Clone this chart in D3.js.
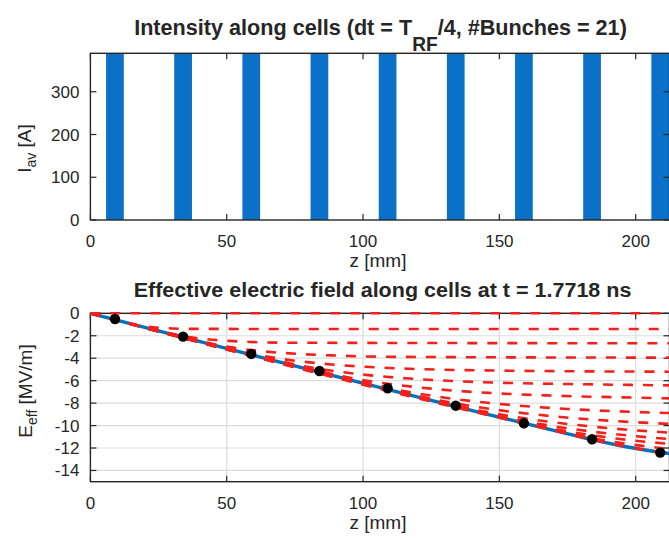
<!DOCTYPE html>
<html>
<head>
<meta charset="utf-8">
<script src="https://cdn.jsdelivr.net/npm/d3@7"></script>
<style>
  body { margin: 0; background: #fff; }
  svg { display: block; }
  text { font-family: "Liberation Sans", Arial, Helvetica, sans-serif; fill: #262626; }
</style>
</head>
<body>
<svg id="chart" width="669" height="540"></svg>
<script>
// ---- data ----------------------------------------------------------------
// bunch centres along the cells (mm) and their average current (A)
const bunchZ = [9, 34, 59, 84, 109, 134, 159, 184, 209];
const bunchCurrent = [390, 390, 390, 390, 390, 390, 390, 390, 390];
const bunchLength = 6.5; // mm

const zTicks = [0, 50, 100, 150, 200];
const currentTicks = [0, 100, 200, 300];
const fieldTicks = [0, -2, -4, -6, -8, -10, -12, -14];

// effective field seen at each bunch position (MV/m)
const bunchField = [-0.51, -2.08, -3.62, -5.14, -6.68, -8.23, -9.80, -11.22, -12.41];

// total effective field along the cells
const totalFieldZ = [0, 179, 184, 192.75, 206.5, 212.4];
const totalFieldE = [0, -10.97, -11.26, -11.71, -12.29, -12.50];

// partial field profiles, one per earlier step: [z (mm), E (MV/m)]
const partialFields = [
  [[0, 0], [212.4, 0]],
  [[0, 0], [16, -0.98], [17.75, -1.08], [19.5, -1.15], [23, -1.25], [26.5, -1.31], [30, -1.35], [37, -1.39], [212.4, -1.40]],
  [[0, 0], [28.6, -1.75], [32.35, -1.95], [36.1, -2.11], [43.6, -2.33], [51.1, -2.46], [58.6, -2.55], [73.6, -2.62], [212.4, -2.67]],
  [[0, 0], [40.4, -2.48], [46.4, -2.80], [52.4, -3.06], [64.4, -3.41], [76.4, -3.62], [88.4, -3.75], [112.4, -3.88], [212.4, -3.95]],
  [[0, 0], [52.8, -3.24], [60.8, -3.67], [68.8, -4.01], [84.8, -4.48], [100.8, -4.76], [116.8, -4.94], [148.8, -5.10], [212.4, -5.20]],
  [[0, 0], [67.1, -4.11], [76.6, -4.63], [86.1, -5.03], [105.1, -5.58], [124.1, -5.92], [143.1, -6.13], [181.1, -6.32], [212.4, -6.42]],
  [[0, 0], [83, -5.09], [93.5, -5.66], [104, -6.10], [125, -6.71], [146, -7.09], [167, -7.31], [209, -7.56], [212.4, -7.58]],
  [[0, 0], [100, -6.13], [112.5, -6.81], [125, -7.34], [150, -8.07], [175, -8.52], [200, -8.79], [212.4, -8.88]],
  [[0, 0], [115, -7.05], [128.75, -7.80], [142.5, -8.37], [170, -9.18], [197.5, -9.67], [212.4, -9.85]],
  [[0, 0], [129, -7.91], [143.5, -8.70], [158, -9.31], [187, -10.16], [212.4, -10.63]],
  [[0, 0], [142, -8.70], [156.5, -9.49], [171, -10.10], [200, -10.95], [212.4, -11.20]],
  [[0, 0], [155, -9.50], [168, -10.20], [181, -10.75], [207, -11.52], [212.4, -11.63]],
  [[0, 0], [167, -10.24], [180, -10.94], [193, -11.49], [212.4, -12.09]],
  [[0, 0], [179, -10.97], [184, -11.26], [192.75, -11.71], [206.5, -12.29], [212.4, -12.50]]
];

// ---- layout ----------------------------------------------------------------
const svg = d3.select("#chart");
const left = 90.4, right = 669.5;
const top1 = { y0: 53.3, y1: 220 };
const top2 = { y0: 313.3, y1: 481.7 };
const tickLen = 6;
const axisColor = "#262626";
const gridColor = "#dcdcdc";

const x = d3.scaleLinear().domain([0, 212.4]).range([left, right]);
const yI = d3.scaleLinear().domain([0, 390]).range([top1.y1, top1.y0]);
const yE = d3.scaleLinear().domain([-15, 0]).range([top2.y1, top2.y0]);

svg.append("defs").append("clipPath").attr("id", "clipTop")
  .append("rect").attr("x", left).attr("y", top1.y0)
  .attr("width", right - left).attr("height", top1.y1 - top1.y0);

// ---- upper panel: intensity along cells --------------------------------------
const g1 = svg.append("g");
g1.append("g").attr("clip-path", "url(#clipTop)")
  .selectAll("rect").data(bunchZ).join("rect")
  .attr("x", d => x(d - bunchLength / 2))
  .attr("width", d => x(d + bunchLength / 2) - x(d - bunchLength / 2))
  .attr("y", (d, i) => yI(bunchCurrent[i]))
  .attr("height", (d, i) => yI(0) - yI(bunchCurrent[i]))
  .attr("fill", "#0a70c8");

function drawBox(g, yScale, yTicks, y0, y1, fmt) {
  // outer box
  g.append("rect").attr("x", left).attr("y", y0)
    .attr("width", right - left).attr("height", y1 - y0)
    .attr("fill", "none").attr("stroke", axisColor).attr("stroke-width", 1.4);
  // inward ticks on all four sides
  zTicks.forEach(t => {
    g.append("line").attr("x1", x(t)).attr("x2", x(t)).attr("y1", y1).attr("y2", y1 - tickLen)
      .attr("stroke", axisColor).attr("stroke-width", 1.2);
    g.append("line").attr("x1", x(t)).attr("x2", x(t)).attr("y1", y0).attr("y2", y0 + tickLen)
      .attr("stroke", axisColor).attr("stroke-width", 1.2);
  });
  yTicks.forEach(t => {
    g.append("line").attr("x1", left).attr("x2", left + tickLen).attr("y1", yScale(t)).attr("y2", yScale(t))
      .attr("stroke", axisColor).attr("stroke-width", 1.2);
    g.append("line").attr("x1", right).attr("x2", right - tickLen).attr("y1", yScale(t)).attr("y2", yScale(t))
      .attr("stroke", axisColor).attr("stroke-width", 1.2);
  });
  // tick labels
  g.selectAll(".xt").data(zTicks).join("text")
    .attr("x", d => x(d)).attr("y", y1 + 27)
    .attr("text-anchor", "middle").attr("font-size", 17).text(d => d);
  g.selectAll(".yt").data(yTicks).join("text")
    .attr("x", left - 11).attr("y", d => yScale(d) + 6)
    .attr("text-anchor", "end").attr("font-size", 17).text(fmt);
  // x label
  g.append("text").attr("x", (left + right) / 2 - 2).attr("y", y1 + 47)
    .attr("text-anchor", "middle").attr("font-size", 19).text("z [mm]");
}

drawBox(g1, yI, currentTicks, top1.y0, top1.y1, d => d);

// y label with subscript
function yLabel(main, sub, rest, cx, cy) {
  const t = svg.append("text").attr("transform", `translate(${cx},${cy}) rotate(-90)`)
    .attr("text-anchor", "middle").attr("font-size", 19);
  t.append("tspan").text(main);
  t.append("tspan").attr("font-size", 14).attr("dy", 5).text(sub);
  t.append("tspan").attr("dy", -5).text(rest);
}
yLabel("I", "av", " [A]", 31, 148.5);
yLabel("E", "eff", " [MV/m]", 32, 391);

// titles, stretched to their measured widths
const t1 = svg.append("text").attr("font-size", 22).attr("font-weight", "bold")
  .attr("text-anchor", "middle");
t1.append("tspan").text("Intensity along cells (dt = T");
t1.append("tspan").attr("font-size", 19.5).attr("dy", 16).text("RF");
t1.append("tspan").attr("dy", -16).text("/4, #Bunches = 21)");
const w1 = t1.node().getBBox().width;
t1.attr("transform", `translate(380.5,34.5) scale(${493 / w1},1)`);

const t2 = svg.append("text").attr("font-size", 20.5).attr("font-weight", "bold")
  .attr("text-anchor", "middle")
  .text("Effective electric field along cells at t = 1.7718 ns");
const w2 = t2.node().getBBox().width;
t2.attr("transform", `translate(382.5,296.7) scale(${498 / w2},1)`);

// ---- lower panel: effective field ------------------------------------------
const g2 = svg.append("g");
// grid
g2.selectAll(".gx").data(zTicks.filter(d => d > 0)).join("line")
  .attr("x1", d => x(d)).attr("x2", d => x(d)).attr("y1", top2.y0).attr("y2", top2.y1)
  .attr("stroke", gridColor).attr("stroke-width", 1.2);
g2.selectAll(".gy").data(fieldTicks.filter(d => d < 0)).join("line")
  .attr("x1", left).attr("x2", right).attr("y1", d => yE(d)).attr("y2", d => yE(d))
  .attr("stroke", gridColor).attr("stroke-width", 1.2);

drawBox(g2, yE, fieldTicks, top2.y0, top2.y1, d => d);

const lineE = d3.line().x(d => x(d[0])).y(d => yE(d[1])).curve(d3.curveMonotoneX);

g2.append("path")
  .datum(totalFieldZ.map((z, i) => [z, totalFieldE[i]]))
  .attr("d", lineE).attr("fill", "none")
  .attr("stroke", "#0072bd").attr("stroke-width", 3.4);

g2.selectAll(".partial").data(partialFields).join("path")
  .attr("d", lineE).attr("fill", "none")
  .attr("stroke", "#f5201a").attr("stroke-width", 2.6)
  .attr("stroke-dasharray", "10,10");

g2.selectAll(".dot").data(bunchZ).join("circle")
  .attr("cx", d => x(d)).attr("cy", (d, i) => yE(bunchField[i]))
  .attr("r", 5.2).attr("fill", "#000");
</script>
</body>
</html>
